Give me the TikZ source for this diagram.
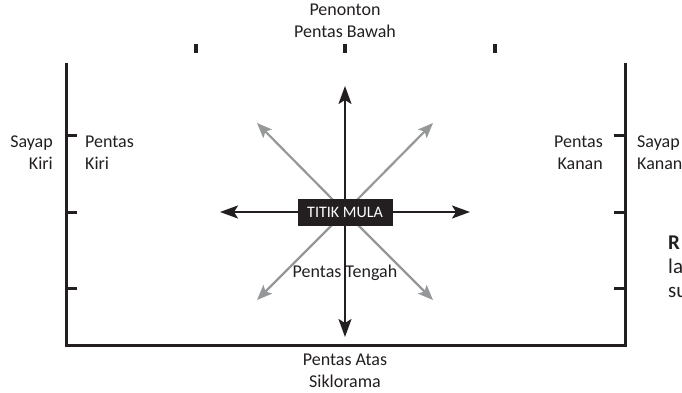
\documentclass[tikz,border=0pt]{standalone}
\usepackage{fontspec}
\setmainfont{Carlito}
\usepackage{tikz}
\usetikzlibrary{arrows.meta}

\definecolor{ink}{HTML}{231F20}
\definecolor{greyarrow}{HTML}{959799}

\begin{document}
\begin{tikzpicture}[x=1pt,y=-1pt,
        every node/.style={font=\fontsize{18}{22}\selectfont,text=ink,inner sep=0pt},
        wall/.style={draw=ink,line width=3pt},
        mainarrow/.style={draw=ink,line width=2.2pt,-{Stealth[length=18pt,width=13pt,inset=4pt]}},
        sidearrow/.style={draw=greyarrow,line width=2.2pt,-{Stealth[length=15pt,width=12pt,inset=3pt]}}]
            \clip (0,0) rectangle (682,393);

            % stage outline
            \draw [wall] (66,63) -- (66,345) -- (625,345) -- (625,63);
            \foreach \y in {135,212,288} {
                \draw [wall] (66,\y) -- (77,\y);
                \draw [wall] (625,\y) -- (614,\y);
            }
            \foreach \x in {196,345,495}
                \draw [draw=ink,line width=4.5pt] (\x,44) -- (\x,53);

            % directions from the starting point
            \coordinate (o) at (345,212);
            \coordinate (up) at (345,86);
            \coordinate (down) at (345,337);
            \coordinate (left) at (220,212);
            \coordinate (right) at (470,212);
            \coordinate (ul) at (257,123);
            \coordinate (ur) at (433,123);
            \coordinate (dl) at (257,300);
            \coordinate (dr) at (433,300);

            \foreach \p in {ul,ur,dl,dr}
                \path [sidearrow] (o) -- (\p);
            \foreach \p in {up,down,left,right}
                \path [mainarrow] (o) -- (\p);

            \node (mula) at (o) [fill=ink,text=white,minimum width=95pt,minimum height=27pt,
                font=\fontsize{16}{18}\selectfont] {TITIK MULA};

            % labels
            \node (audience) at (345,21) [align=center] {Penonton\\Pentas Bawah};
            \node (cyc) at (345,371) [align=center] {Pentas Atas\\Siklorama};
            \node (centre) at (345,273) {Pentas Tengah};
            \node (wingL) at (53,153) [anchor=east,align=right] {Sayap\\Kiri};
            \node (stageL) at (85,153) [anchor=west,align=left] {Pentas\\Kiri};
            \node (stageR) at (603,153) [anchor=east,align=right] {Pentas\\Kanan};
            \node (wingR) at (637,153) [anchor=west,align=left] {Sayap\\Kanan};
            \node (cut) at (668,267) [anchor=west,align=left,font=\fontsize{21}{24}\selectfont]
                {\textbf{R}\\la\\su};
            \end{tikzpicture}
\end{document}
